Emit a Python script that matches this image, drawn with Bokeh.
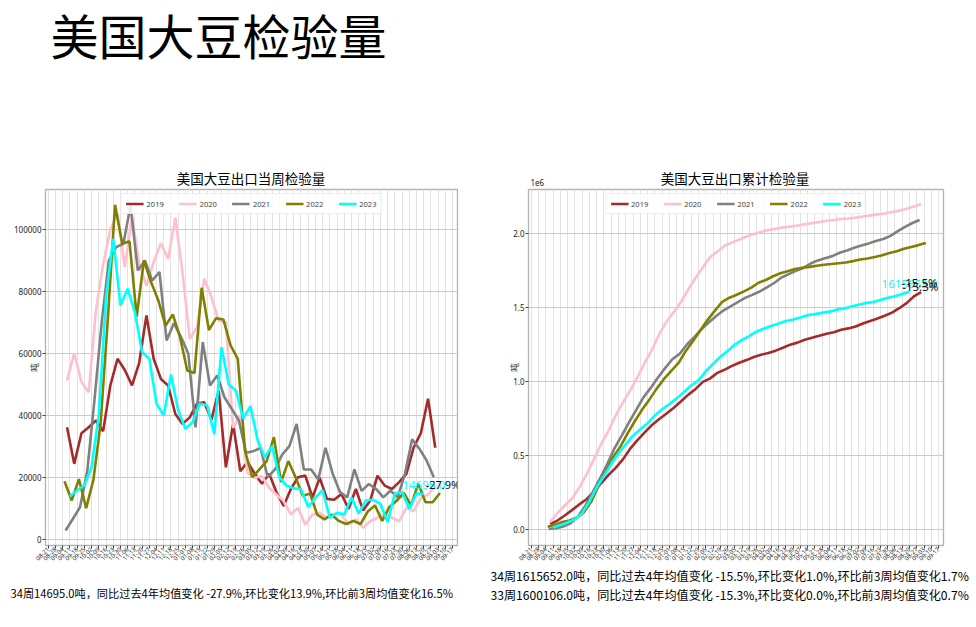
import numpy as np
from bokeh.plotting import figure
from bokeh.models import (FixedTicker, Legend, LegendItem, CustomJSTickFormatter, Range1d)
from bokeh.layouts import row, column
from bokeh.embed import file_html
from bokeh.resources import INLINE
from bokeh.core.properties import value

# ---------------- data ----------------
years = ["2019", "2020", "2021", "2022", "2023"]
colors = ["#a52a2a", "#ffc0cb", "#808080", "#808000", "#00ffff"]

# week position of each season's first point on the shared date axis (weeks)
week_start = {"2019": -0.4, "2020": -0.4, "2021": -0.6, "2022": -0.75, "2023": 0.0}

w2019 = [36200, 24400, 34300, 36200, 38400, 34950, 49700, 58300, 54700, 49700,
         57000, 72300, 58300, 51800, 49700, 40500, 37300, 39400, 43800, 44300,
         38600, 48000, 23300, 37300, 22000, 25000, 21200, 18000, 21200, 15300,
         10800, 16300, 20100, 20600, 13600, 19900, 13100, 12800, 14700, 9900,
         16300, 9400, 12600, 20600, 17400, 16300, 18500, 21200, 29600, 34300,
         45400, 29600]
w2020 = [51300, 60100, 50800, 47500, 73900, 88700, 100000, 105000, 87900, 104000,
         89000, 81900, 89500, 95600, 90500, 103800, 86000, 64700, 68500, 84100,
         78200, 70600, 70100, 36000, 40000, 21500, 19900, 20400, 16600, 14500,
         12400, 8100, 10200, 4800, 8100, 8600, 7000, 8100, 8100, 4800,
         6500, 3800, 5900, 7000, 8100, 7000, 5900, 10200, 9100, 13400,
         14500, 17000]
w2021 = [2900, 6600, 10400, 22000, 45000, 70000, 90000, 94300, 95400, 107700,
         86800, 90000, 83500, 86300, 64200, 69800, 65300, 59900, 36200, 63700,
         49700, 52900, 45900, 42200, 38400, 28000, 28500, 29500, 20100, 22600,
         27400, 30100, 37300, 22600, 22600, 19400, 29600, 21200, 15300, 13600,
         22600, 15700, 17900, 16300, 13600, 15700, 13600, 21200, 32300, 29300,
         25500, 20100]
w2022 = [18800, 12600, 19500, 10100, 19200, 37300, 71000, 108000, 95400, 96200,
         71900, 90000, 83000, 77100, 69000, 72600, 65300, 54500, 53700, 81200,
         67600, 71400, 71000, 62600, 58300, 28700, 20100, 22600, 25300, 33000,
         18500, 25300, 20100, 14100, 14800, 8000, 6500, 8000, 6000, 5000,
         6000, 5000, 9000, 11000, 6000, 10500, 12500, 15000, 11000, 18000,
         12000, 12000, 15000]
w2023 = [13900, 15900, 17500, 23300, 40000, 78000, 97000, 75500, 80900, 73300,
         60400, 58300, 43800, 40000, 53200, 41600, 35700, 37800, 43800, 43300,
         34000, 62000, 50000, 48000, 39000, 43000, 32000, 26500, 30200, 20100,
         17400, 16500, 16300, 10500, 13500, 15900, 7000, 8600, 8100, 13500,
         8400, 12600, 12800, 11500, 5600, 14800, 15300, 9900, 14800, 14695]
weekly = {"2019": w2019, "2020": w2020, "2021": w2021, "2022": w2022, "2023": w2023}

tick_pos = list(range(-3, 54))
tick_labels = ["08-21", "08-28", "09-04", "09-11", "09-18", "09-25", "10-02", "10-09",
               "10-16", "10-23", "10-30", "11-06", "11-13", "11-20", "11-27", "12-04",
               "12-11", "12-18", "12-25", "01-01", "01-08", "01-15", "01-22", "01-29",
               "02-05", "02-12", "02-19", "02-26", "03-05", "03-12", "03-19", "03-26",
               "04-02", "04-09", "04-16", "04-23", "04-30", "05-07", "05-14", "05-21",
               "05-28", "06-04", "06-11", "06-18", "06-25", "07-02", "07-09", "07-16",
               "07-23", "07-30", "08-06", "08-13", "08-20", "08-27", "09-03", "09-10",
               "09-17"]
weekly_yticks = [0, 20000, 40000, 60000, 80000, 100000]
cum_yticks = [0, 500000, 1000000, 1500000, 2000000]

main_title = "美国大豆检验量"
title_week = "美国大豆出口当周检验量"
title_cum = "美国大豆出口累计检验量"
note_week = "34周14695.0吨，同比过去4年均值变化 -27.9%,环比变化13.9%,环比前3周均值变化16.5%"
note_cum1 = "34周1615652.0吨，同比过去4年均值变化 -15.5%,环比变化1.0%,环比前3周均值变化1.7%"
note_cum2 = "33周1600106.0吨，同比过去4年均值变化 -15.3%,环比变化0.0%,环比前3周均值变化0.7%"
week_last_txt = "14695.0"
week_pct_txt = "-27.9%"
cum_last_txt = "1615652.0"
cum_pct_txt = "-15.5%"
cum_prev_pct_txt = "-15.3%"

CJK = "Noto Sans CJK SC"
NUM = "Noto Sans"

HEAD_H = 188
FOOT_H = 61
CHART_H = 627 - HEAD_H - FOOT_H


def text_panel(h):
    p = figure(width=976, height=h, x_range=Range1d(0, 976), y_range=Range1d(h, 0),
               min_border=0, output_backend="svg", toolbar_location=None)
    p.axis.visible = False
    p.grid.visible = False
    p.outline_line_color = None
    p.background_fill_color = "white"
    p.border_fill_color = "white"
    return p


def put(p, x, y, s, size, align="left", color="black", font=CJK):
    p.text(x=[x], y=[y], text=[s], text_font=value(font), text_font_size=size,
           text_align=align, text_baseline="middle", text_color=color)


def base_fig(width, bl, br, yr, yticks, ylab_standoff):
    p = figure(width=width, height=CHART_H, min_border_left=bl, min_border_right=br,
               min_border_top=1, min_border_bottom=21,
               x_range=Range1d(-3.38, 53.68), y_range=yr,
               output_backend="svg", toolbar_location=None)
    p.background_fill_color = "white"
    p.border_fill_color = "white"
    p.outline_line_color = "#b3b3b3"
    p.outline_line_width = 1.3
    p.xaxis.ticker = FixedTicker(ticks=tick_pos)
    p.xaxis.formatter = CustomJSTickFormatter(args=dict(labs=tick_labels),
                                              code="const i = Math.round(tick) + 3; return labs[i] ?? '';")
    p.xaxis.major_label_orientation = np.pi / 4
    p.xaxis.major_label_text_font_size = "6px"
    p.xaxis.major_label_standoff = 0
    p.yaxis.ticker = FixedTicker(ticks=yticks)
    p.yaxis.major_label_text_font_size = "8px"
    p.yaxis.major_label_standoff = 1
    for ax in (p.xaxis, p.yaxis):
        ax.major_label_text_font = NUM
        ax.major_label_text_color = "#222222"
        ax.axis_line_color = "#b3b3b3"
        ax.major_tick_line_color = "#444444"
        ax.major_tick_out = 3
        ax.major_tick_in = 0
        ax.minor_tick_line_color = None
    p.yaxis.axis_label = "吨"
    p.yaxis.axis_label_text_font = CJK
    p.yaxis.axis_label_text_font_style = "normal"
    p.yaxis.axis_label_text_font_size = "9px"
    p.yaxis.axis_label_standoff = ylab_standoff
    p.xgrid.grid_line_color = "#e2e2e2"
    p.xgrid.grid_line_width = 1
    p.ygrid.grid_line_color = "#cccccc"
    p.ygrid.grid_line_width = 1
    return p


def add_lines(p, series):
    items = []
    last = {}
    for yr, c in zip(years, colors):
        ys = np.asarray(series[yr], dtype=float)
        xs = week_start[yr] + np.arange(len(ys))
        r = p.line(xs, ys, line_color=c, line_width=2.6)
        items.append(LegendItem(label=yr, renderers=[r]))
        last[yr] = (xs, ys)
    leg = Legend(items=items, orientation="horizontal", location="top_center",
                 margin=4, padding=4, spacing=15, glyph_width=18, glyph_height=11,
                 label_standoff=3, label_width=16, label_text_font_size="7.5px",
                 label_text_font=NUM, label_height=11,
                 border_line_color="#dddddd", background_fill_alpha=0.85)
    p.add_layout(leg)
    return last


# ---------------- header ----------------
head = text_panel(HEAD_H)
put(head, 50, 33.5, main_title, "48px")
put(head, 250.5, 177.5, title_week, "13.5px", align="center")
put(head, 734.5, 177.5, title_cum, "13.5px", align="center")
put(head, 530, 182, "1e6", "8px", color="#222222", font=NUM)

# ---------------- left: weekly ----------------
pw = base_fig(470, 45, 13, Range1d(-1936, 112910), weekly_yticks, -30)
pw.yaxis.formatter = CustomJSTickFormatter(code="return tick.toFixed(0);")
lw = add_lines(pw, weekly)
xs, ys = lw["2023"]
pw.text(x=[xs[-1]], y=[ys[-1]], text=[week_last_txt], text_color="#00ffff",
        text_font=value(NUM), text_font_size="11.5px", text_align="center",
        text_baseline="middle", y_offset=-9)
pw.text(x=[xs[-1]], y=[ys[-1]], text=[week_pct_txt], text_color="#111111",
        text_font=value(NUM), text_font_size="11px", text_align="left",
        text_baseline="middle", x_offset=2, y_offset=-9)

# ---------------- right: cumulative ----------------
cum = {yr: np.cumsum(np.asarray(weekly[yr], dtype=float)) for yr in years}
pc = base_fig(506, 58, 33, Range1d(-108000, 2297000), cum_yticks, -11)
pc.yaxis.formatter = CustomJSTickFormatter(code="return (tick/1e6).toFixed(1);")
lc = add_lines(pc, cum)
xs, ys = lc["2023"]
pc.text(x=[xs[-1]], y=[ys[-1]], text=[cum_last_txt], text_color="#00ffff",
        text_font=value(NUM), text_font_size="11.5px", text_align="center",
        text_baseline="middle", y_offset=-8)
pc.text(x=[xs[-2]], y=[ys[-2]], text=[cum_prev_pct_txt], text_color="#111111",
        text_font=value(NUM), text_font_size="11.5px", text_align="left",
        text_baseline="middle", x_offset=0, y_offset=-8)
pc.text(x=[xs[-1]], y=[ys[-1]], text=[cum_pct_txt], text_color="#111111",
        text_font=value(NUM), text_font_size="11.5px", text_align="left",
        text_baseline="middle", x_offset=-8, y_offset=-9)

# ---------------- footer ----------------
foot = text_panel(FOOT_H)
put(foot, 10, 26, note_week, "11.2px")
put(foot, 490, 9, note_cum1, "12.1px")
put(foot, 490, 28, note_cum2, "12.1px")

layout = column(head, row(pw, pc), foot)
open("out.html", "w").write(file_html(layout, INLINE))
